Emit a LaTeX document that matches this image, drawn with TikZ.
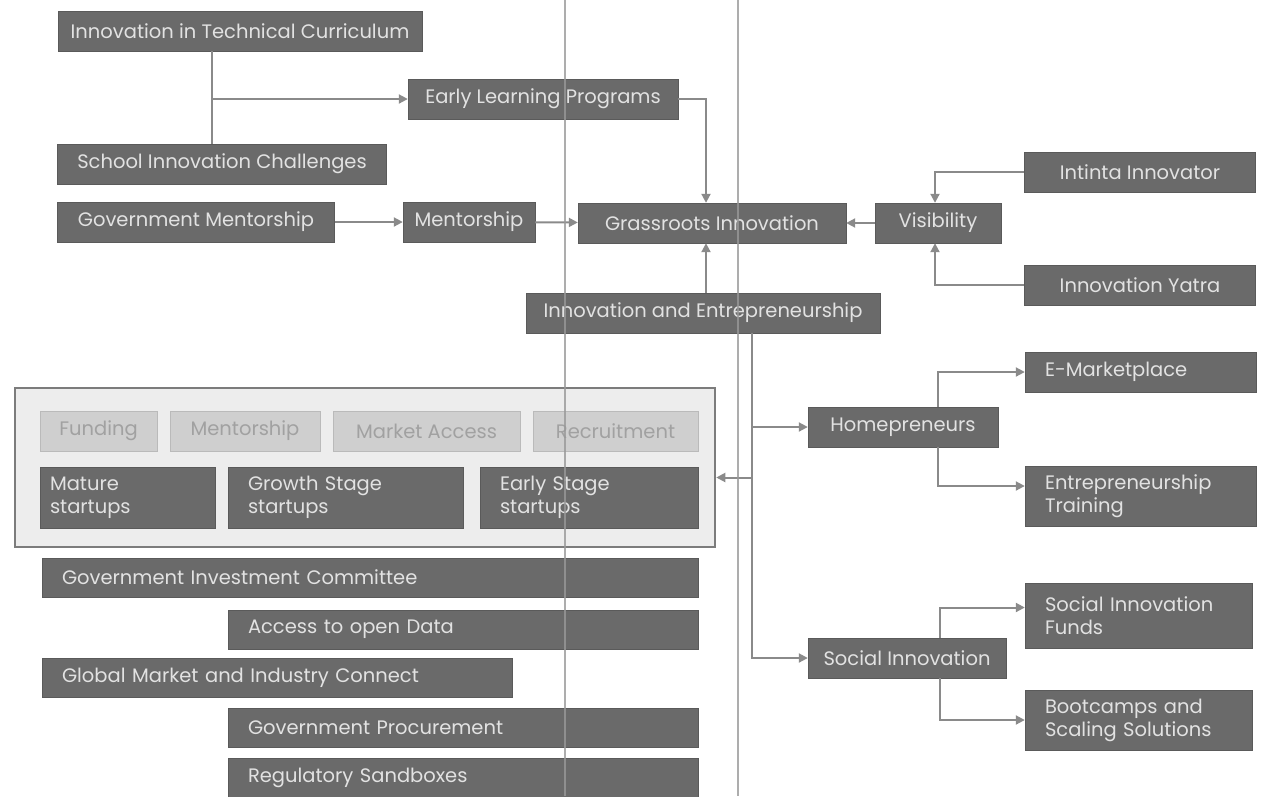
\documentclass[tikz,border=0pt]{standalone}
\usepackage{fontspec}
\setmainfont{Poppins}
\usetikzlibrary{positioning,arrows.meta,calc}
\definecolor{cdark}{HTML}{6A6A6A}
\definecolor{clite}{HTML}{CFCFCF}
\definecolor{cwire}{HTML}{8A8A8A}
\definecolor{ctext}{HTML}{E2E2E2}
\definecolor{cpane}{HTML}{EDEDED}
\tikzset{
  block/.style={draw=cdark!85!black, fill=cdark, text=ctext, minimum height=40pt, inner xsep=10pt, align=center, font=\fontsize{19.5}{23}\selectfont},
  lblock/.style={block, align=left, inner xsep=20pt},
  lite/.style={draw=clite!90!black, fill=clite, text=cwire!80!white, minimum height=40pt, font=\fontsize{19.5}{23}\selectfont},
  pane/.style={draw=cwire!90!black, line width=2.5pt, fill=cpane},
  sig/.style={-{Triangle[length=9pt,width=9pt]}, line width=2pt, draw=cwire},
  wire/.style={line width=2pt, draw=cwire},
  scan/.style={line width=1.5pt, draw=black!40, opacity=0.8},
}
\begin{document}
\begin{tikzpicture}[x=1pt, y=-1pt]
  \useasboundingbox (0,0) rectangle (1269,796);
  % school and mentorship
  \node[block, minimum width=364pt] (itc) at (240,31) {Innovation in Technical Curriculum};
  \node[block, minimum width=270pt] (elp) at (543,99) {Early Learning Programs};
  \node[block, minimum width=329pt] (sic) at (222,164) {School Innovation Challenges};
  \node[block, minimum width=277pt] (gm) at (196,222) {Government Mentorship};
  \node[block, minimum width=132pt] (men) at (469,222) {Mentorship};
  \node[block, minimum width=268pt] (gri) at (712,223) {Grassroots Innovation};
  \node[block, minimum width=126pt] (vis) at (938,223) {Visibility};
  \node[block, minimum width=231pt] (ii) at (1140,172) {Intinta Innovator};
  \node[block, minimum width=231pt] (iy) at (1140,285) {Innovation Yatra};
  \node[block, minimum width=354pt] (ie) at (703,313) {Innovation and Entrepreneurship};
  % startup ecosystem
  \node[pane, minimum width=700pt, minimum height=159pt] (eco) at (365,467.5) {};
  \node[lite, minimum width=117pt] (fund) at (98.5,431) {Funding};
  \node[lite, minimum width=150pt] (ment) at (245,431) {Mentorship};
  \node[lite, minimum width=187pt] (mkt) at (426.5,431) {Market Access};
  \node[lite, minimum width=165pt] (rec) at (615.5,431) {Recruitment};
  \node[block, align=left, text width=155pt, minimum height=61pt] (mat) at (127.5,497.5) {Mature\\startups};
  \node[block, align=left, text width=195pt, inner xsep=20pt, minimum height=61pt] (grow) at (345.5,497.5) {Growth Stage\\startups};
  \node[block, align=left, text width=178pt, inner xsep=20pt, minimum height=61pt] (early) at (589,497.5) {Early Stage\\startups};
  \node[lblock, text width=616pt, minimum height=39pt] (gic) at (370,577.5) {Government Investment Committee};
  \node[lblock, text width=430pt, minimum height=39pt] (aod) at (463,629.5) {Access to open Data};
  \node[lblock, text width=430pt, minimum height=39pt] (gmic) at (277,677.5) {Global Market and Industry Connect};
  \node[lblock, text width=430pt, minimum height=39pt] (gp) at (463,727.5) {Government Procurement};
  \node[lblock, text width=430pt, minimum height=39pt] (rs) at (463,777.5) {Regulatory Sandboxes};
  % home and social
  \node[block, minimum width=190pt] (hp) at (903,427) {Homepreneurs};
  \node[lblock, text width=191pt] (em) at (1140.5,372) {E-Marketplace};
  \node[lblock, text width=191pt, minimum height=60pt] (et) at (1140.5,496) {Entrepreneurship\\Training};
  \node[block, minimum width=198pt] (si) at (907,658) {Social Innovation};
  \node[lblock, text width=187pt, minimum height=65pt] (sif) at (1138.5,615.5) {Social Innovation\\Funds};
  \node[lblock, text width=187pt, minimum height=60pt] (bss) at (1138.5,720) {Bootcamps and\\Scaling Solutions};
  % connectors
  \coordinate (itcfork) at (212,0);
  \coordinate (gridrop) at (706,0);
  \coordinate (visfork) at (935,0);
  \coordinate (spine) at (752,0);
  \coordinate (hpfork) at (938,0);
  \coordinate (sifork) at (940,0);
  \coordinate (ecoin) at ([yshift=-10pt]eco.east);
  \draw[wire] (itc.south -| itcfork) -- (sic.north -| itcfork);
  \draw[sig] (itcfork |- elp.west) -- (elp.west);
  \draw[sig] (elp.east) -| (gri.north -| gridrop);
  \draw[sig] (gm) -- (men);
  \draw[sig] (men) -- (gri);
  \draw[sig] (vis) -- (gri);
  \draw[sig] (ii.west) -| (vis.north -| visfork);
  \draw[sig] (iy.west) -| (vis.south -| visfork);
  \draw[sig] (ie.north -| gridrop) -- (gri.south -| gridrop);
  \draw[sig] (ie.south -| spine) |- (si.west);
  \draw[sig] (spine |- hp.west) -- (hp.west);
  \draw[sig] (spine |- ecoin) -- (ecoin);
  \draw[sig] (hp.north -| hpfork) |- (em.west);
  \draw[sig] (hp.south -| hpfork) |- ([yshift=10pt]et.west);
  \draw[sig] (si.north -| sifork) |- ([yshift=8pt]sif.west);
  \draw[sig] (si.south -| sifork) |- (bss.west);
  % scanner streaks
  \draw[scan] (565,0) -- (565,796);
  \draw[scan] (738,0) -- (738,796);
\end{tikzpicture}
\end{document}
